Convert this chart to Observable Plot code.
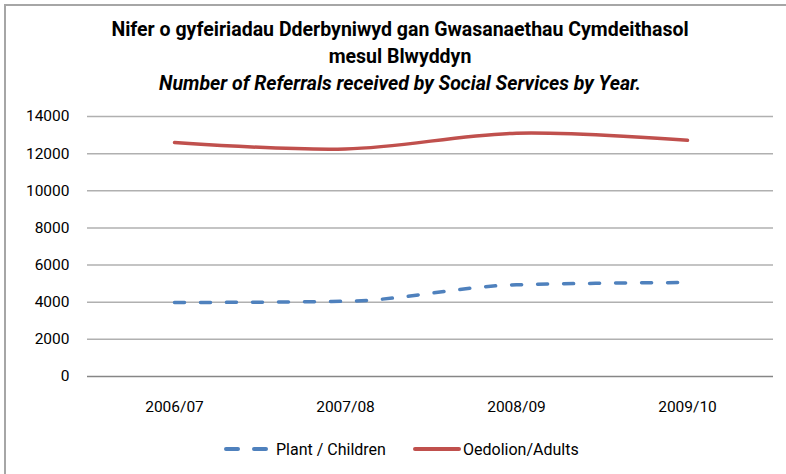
<!DOCTYPE html>
<html>
<head>
<meta charset="utf-8">
<script src="https://cdn.jsdelivr.net/npm/d3@7"></script>
<script src="https://cdn.jsdelivr.net/npm/@observablehq/plot@0.6"></script>
<style>
  html, body { margin: 0; padding: 0; background: #fff; }
  #chart { position: relative; width: 786px; height: 474px; overflow: hidden; background: #fff; font-family: Roboto, "Open Sans", sans-serif; color: #000; }
  #frame { position: absolute; left: 4px; top: 4px; width: 900px; height: 600px; border: 2px solid #a6a6a6; box-sizing: border-box; }
  .t { position: absolute; left: 5px; width: 790px; text-align: center; font-weight: bold; font-size: 19.5px; line-height: 22px; white-space: nowrap; }
  #plot { position: absolute; left: 0; top: 100px; }
  .leg { position: absolute; top: 440px; height: 18px; display: flex; align-items: center; font-size: 16px; white-space: nowrap; }
  .leg svg { display: block; }
</style>
</head>
<body>
<div id="chart">
  <div id="frame"></div>
  <div class="t" id="t1" style="top:19px">Nifer o gyfeiriadau Dderbyniwyd gan Gwasanaethau Cymdeithasol</div>
  <div class="t" id="t2" style="top:46px">mesul Blwyddyn</div>
  <div class="t" id="t3" style="top:73px;font-style:italic">Number of Referrals received by Social Services by Year.</div>
  <div id="plot"></div>
  <div class="leg" style="left:222px">
    <svg width="48" height="10"><line x1="4" x2="44" y1="5" y2="5" stroke="#4F81BD" stroke-width="4" stroke-dasharray="12,16" stroke-linecap="round"/></svg>
    <span style="margin-left:6px">Plant / Children</span>
  </div>
  <div class="leg" style="left:412px">
    <svg width="50" height="10"><line x1="3" x2="47" y1="5" y2="5" stroke="#C0504D" stroke-width="4" stroke-linecap="round"/></svg>
    <span style="margin-left:1px">Oedolion/Adults</span>
  </div>
</div>
<script>
const years = ["2006/07", "2007/08", "2008/09", "2009/10"];
const childrenValues = [3980, 4050, 4940, 5060];
const adultsValues = [12600, 12250, 13100, 12720];
const yTicks = [0, 2000, 4000, 6000, 8000, 10000, 12000, 14000];

const children = years.map((year, i) => ({year, value: childrenValues[i]}));
const adults = years.map((year, i) => ({year, value: adultsValues[i]}));

const chart = Plot.plot({
  width: 786,
  height: 320,
  marginLeft: 87,
  marginRight: 13,
  marginTop: 16,
  marginBottom: 44,
  style: {fontFamily: "Roboto, sans-serif", fontSize: "15.5px", color: "#000", background: "transparent"},
  x: {type: "point", domain: years, padding: 0.5, label: null, tickSize: 0, tickPadding: 24},
  y: {domain: [0, 14000], ticks: yTicks, label: null, tickSize: 0, tickPadding: 18, tickFormat: d => String(d)},
  marks: [
    Plot.gridY(yTicks.filter(d => d > 0), {stroke: "#b0b0b0", strokeOpacity: 1, strokeWidth: 1.5}),
    Plot.ruleY([0], {stroke: "#868686", strokeWidth: 1.5}),
    Plot.lineY(children, {x: "year", y: "value", curve: "monotone-x", stroke: "#4F81BD", strokeWidth: 3.5, strokeDasharray: "10,16", strokeLinecap: "round"}),
    Plot.lineY(adults, {x: "year", y: "value", curve: "catmull-rom", stroke: "#C0504D", strokeWidth: 3.5, strokeLinecap: "round"})
  ]
});
document.getElementById("plot").appendChild(chart);
</script>
</body>
</html>
